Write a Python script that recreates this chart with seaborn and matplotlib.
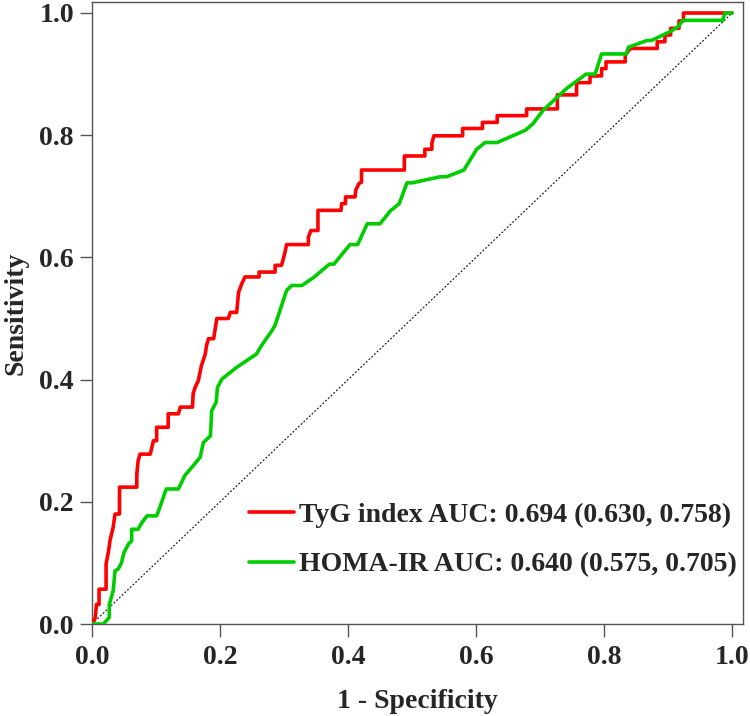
import numpy as np
import pandas as pd
import matplotlib
matplotlib.use("Agg")
import matplotlib.pyplot as plt
import seaborn as sns

# ROC vertices (1 - specificity, sensitivity)
tyg_fpr = [0, 0.005, 0.007, 0.011, 0.011, 0.022, 0.022, 0.026, 0.028, 0.033, 0.036, 0.043, 0.043, 0.070,
           0.070, 0.072, 0.075, 0.091, 0.096, 0.101, 0.101, 0.119, 0.119, 0.135, 0.138, 0.157, 0.158,
           0.161, 0.166, 0.171, 0.177, 0.179, 0.182, 0.190, 0.192, 0.195, 0.213, 0.216, 0.226, 0.229,
           0.234, 0.239, 0.261, 0.261, 0.286, 0.286, 0.296, 0.299, 0.302, 0.304, 0.338, 0.338, 0.342,
           0.353, 0.353, 0.389, 0.390, 0.396, 0.396, 0.411, 0.412, 0.417, 0.421, 0.421, 0.488, 0.488,
           0.520, 0.520, 0.531, 0.531, 0.534, 0.579, 0.579, 0.610, 0.610, 0.633, 0.633, 0.679, 0.679,
           0.727, 0.727, 0.757, 0.757, 0.778, 0.778, 0.796, 0.796, 0.803, 0.803, 0.833, 0.833, 0.841,
           0.883, 0.883, 0.895, 0.895, 0.904, 0.904, 0.917, 0.917, 0.924, 0.924, 0.986, 1.0]
tyg_tpr = [0, 0.010, 0.032, 0.032, 0.057, 0.057, 0.098, 0.120, 0.136, 0.158, 0.180, 0.180, 0.224, 0.224,
           0.245, 0.267, 0.278, 0.278, 0.300, 0.300, 0.322, 0.322, 0.344, 0.344, 0.355, 0.355, 0.377,
           0.387, 0.398, 0.423, 0.442, 0.456, 0.467, 0.467, 0.480, 0.500, 0.500, 0.510, 0.510, 0.543,
           0.557, 0.568, 0.568, 0.576, 0.576, 0.587, 0.587, 0.598, 0.611, 0.621, 0.621, 0.633, 0.644,
           0.644, 0.677, 0.677, 0.688, 0.688, 0.699, 0.699, 0.710, 0.721, 0.723, 0.743, 0.743, 0.766,
           0.766, 0.777, 0.777, 0.787, 0.799, 0.799, 0.811, 0.811, 0.821, 0.821, 0.832, 0.832, 0.843,
           0.843, 0.866, 0.866, 0.886, 0.886, 0.897, 0.897, 0.909, 0.909, 0.920, 0.920, 0.931, 0.942,
           0.942, 0.953, 0.953, 0.964, 0.964, 0.975, 0.975, 0.987, 0.987, 1.0, 1.0, 1.0]

homa_fpr = [0, 0.018, 0.027, 0.027, 0.033, 0.036, 0.041, 0.046, 0.050, 0.057, 0.062, 0.062, 0.072, 0.078,
            0.086, 0.101, 0.106, 0.116, 0.135, 0.145, 0.158, 0.169, 0.174, 0.185, 0.187, 0.194, 0.196,
            0.203, 0.226, 0.257, 0.265, 0.281, 0.286, 0.304, 0.312, 0.328, 0.346, 0.371, 0.378, 0.403,
            0.415, 0.430, 0.450, 0.466, 0.480, 0.492, 0.500, 0.544, 0.554, 0.581, 0.601, 0.614, 0.633,
            0.677, 0.689, 0.705, 0.742, 0.772, 0.786, 0.796, 0.835, 0.838, 0.867, 0.874, 0.904, 0.916,
            0.923, 0.985, 0.989, 1.0]
homa_tpr = [0, 0, 0.011, 0.032, 0.054, 0.087, 0.090, 0.100, 0.117, 0.131, 0.136, 0.155, 0.155, 0.166,
            0.177, 0.177, 0.191, 0.221, 0.221, 0.243, 0.259, 0.273, 0.297, 0.308, 0.349, 0.363, 0.387,
            0.401, 0.420, 0.442, 0.456, 0.480, 0.489, 0.546, 0.554, 0.554, 0.567, 0.589, 0.589, 0.621,
            0.621, 0.655, 0.655, 0.676, 0.688, 0.722, 0.722, 0.732, 0.732, 0.743, 0.777, 0.788, 0.788,
            0.808, 0.819, 0.841, 0.877, 0.900, 0.900, 0.933, 0.933, 0.944, 0.955, 0.955, 0.970, 0.978,
            0.988, 0.988, 1.0, 1.0]

labels = ["TyG index AUC: 0.694 (0.630, 0.758)", "HOMA-IR AUC: 0.640 (0.575, 0.705)"]
colors = ["#FF0000", "#00CD00"]
ticks = [0.0, 0.2, 0.4, 0.6, 0.8, 1.0]

df = pd.concat([
    pd.DataFrame({"fpr": tyg_fpr, "tpr": tyg_tpr, "model": labels[0], "order": range(len(tyg_fpr))}),
    pd.DataFrame({"fpr": homa_fpr, "tpr": homa_tpr, "model": labels[1], "order": range(len(homa_fpr))}),
])

sns.set_style("ticks")
plt.rcParams["font.family"] = ["Liberation Serif", "DejaVu Serif"]
plt.rcParams["font.weight"] = "bold"

fig = plt.figure(figsize=(7.5, 7.16), dpi=100)
ax = fig.add_axes([92 / 750, 1 - 624 / 716, 651 / 750, 622 / 716])

ax.plot([0, 1], [0, 1], linestyle=(0, (1.5, 1.5)), color="#222222", lw=0.9, zorder=1)
sns.lineplot(data=df, x="fpr", y="tpr", hue="model", palette=colors, sort=False,
             estimator=None, units="model", lw=2.6, ax=ax, zorder=3)

ax.set_xlim(0, 1.017)
ax.set_ylim(0, 1.018)
ax.set_xticks(ticks)
ax.set_yticks(ticks)
ax.set_xticklabels([f"{t:.1f}" for t in ticks])
ax.set_yticklabels([f"{t:.1f}" for t in ticks])
ax.tick_params(axis="both", labelsize=20, length=9, width=1, color="#555555", pad=4)
ax.tick_params(axis="x", pad=6)
for s in ax.spines.values():
    s.set_color("#555555")
    s.set_linewidth(1)

ax.set_xlabel("1 - Specificity", fontsize=20, fontweight="bold", labelpad=14)
ax.set_ylabel("Sensitivity", fontsize=20, fontweight="bold", labelpad=8)

leg = ax.legend(loc="lower right", bbox_to_anchor=(0.991, 0.075), frameon=False,
                fontsize=20, handlelength=1.6, handletextpad=0.2, labelspacing=0.86,
                borderpad=0, borderaxespad=0)
for line in leg.get_lines():
    line.set_linewidth(2.6)

fig.savefig("out.png", dpi=100)
